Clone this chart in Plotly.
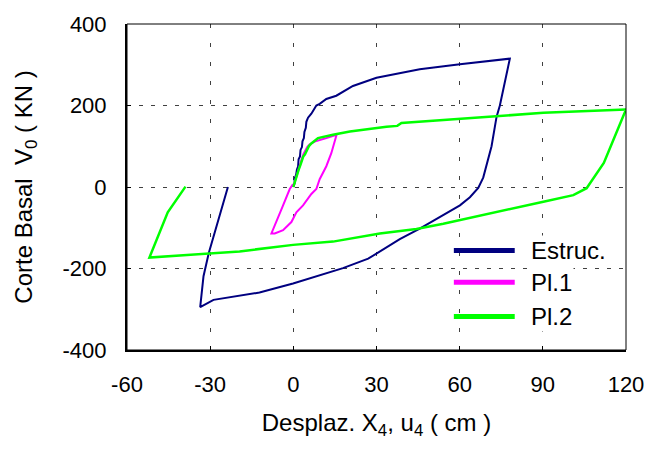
import plotly.graph_objects as go

# Hysteresis curves: base shear vs. top-floor displacement
estruc_x = [0, 0.5, 0.4, 1.0, 1.3, 1.7, 1.9, 2.4, 2.6, 3.1, 3.3, 3.8, 4.0, 4.5, 4.7, 5.3,
            6.5, 8.3, 9.5, 11.9, 15.5, 21.5, 30.0, 37.2, 45.6, 60.1, 78.1, 74.5, 73.3,
            71.5, 68.5, 66.7, 63.7, 60.1, 45.6, 38.4, 27.0, 17.9, -0.1, -12.2, -28.8,
            -33.6, -32.4, -30.5, -27.8, -23.6]
estruc_y = [0, 11, 20, 30, 43, 50, 68, 75, 91, 98, 112, 120, 135, 145, 160, 170,
            180, 200, 204, 216, 224, 248, 268, 278, 289, 301, 315, 200, 172,
            100, 23, -2, -25, -45, -102, -128, -176, -199, -237, -259, -277,
            -295, -219, -162, -98, 0]

pl1_x = [0, 0.6, 1.0, 1.6, 2.0, 2.6, 3.0, 3.6, 4.2, 5.0, 5.9, 8.3, 11.9, 15.6,
         13.7, 11.9, 9.5, 8.3, 6.5, 3.5, 1.1, -0.7, -3.7, -6.7, -7.9, -6.1, -3.7,
         -1.3, -0.1]
pl1_y = [0, 15, 22, 38, 45, 60, 68, 80, 88, 98, 105, 113, 120, 128,
         83, 51, 19, -5, -17, -45, -62, -86, -106, -114, -114, -86, -45,
         -5, 7]

pl2_x = [0, 0.5, 0.9, 1.5, 1.9, 2.6, 3.0, 3.6, 4.2, 5.0, 5.6, 6.5, 8.9, 14.3, 20.4,
         33.6, 37.5, 39.0, 60.1, 90.2, 120.0, 112.0, 105.8, 101.0, 90.2, 60.1, 54.1,
         44.4, 31.2, 14.3, -0.1, -19.4, -51.9, -45.3, -38.9]
pl2_y = [0, 12, 20, 35, 42, 55, 62, 75, 80, 92, 100, 107, 120, 128, 136,
         148, 150, 157, 168, 182, 190, 59, -3, -20, -36, -82, -90,
         -103, -114, -134, -142, -158, -173, -62, 1]

x_ticks = [-60, -30, 0, 30, 60, 90, 120]
y_ticks = [-400, -200, 0, 200, 400]
x_tick_labels = ["-60", "-30", "0", "30", "60", "90", "120"]
y_tick_labels = ["-400", "-200", "0", "200", "400"]

series_names = ["Estruc.", "Pl.1", "Pl.2"]
series_colors = ["#000080", "#FF00FF", "#00FF00"]
series_widths = [2, 2, 2.5]

FONT = "Arial, 'Liberation Sans', sans-serif"

fig = go.Figure()
for xs, ys, name, col, w in zip([estruc_x, pl1_x, pl2_x], [estruc_y, pl1_y, pl2_y],
                                series_names, series_colors, series_widths):
    fig.add_trace(go.Scatter(x=xs, y=ys, mode="lines", name=name,
                             line=dict(color=col, width=w), showlegend=False))

axis_common = dict(
    showgrid=True, gridcolor="#404040", gridwidth=1,
    showline=True, linecolor="black", linewidth=2,
    ticks="inside", ticklen=4, tickcolor="black", tickwidth=1,
    zeroline=False, tickfont=dict(family=FONT, size=22, color="black"),
)

fig.update_xaxes(range=[-60, 120], tickvals=x_ticks, ticktext=x_tick_labels,
                 griddash="4px,15px", ticklabelstandoff=14,
                 title=dict(text="Desplaz. X<sub>4</sub>, u<sub>4</sub> ( cm )",
                            font=dict(family=FONT, size=24, color="black"), standoff=18),
                 **axis_common)
fig.update_yaxes(range=[-400, 400], tickvals=y_ticks, ticktext=y_tick_labels,
                 griddash="4px,8px", ticklabelstandoff=14,
                 title=dict(text="Corte Basal \u00a0V<sub>0</sub> ( KN )",
                            font=dict(family=FONT, size=24, color="black"), standoff=23),
                 **axis_common)

# thin frame on top and right
fig.add_shape(type="rect", xref="paper", yref="paper", x0=0, x1=1, y0=0, y1=1,
              line=dict(color="black", width=1), layer="above")

# legend drawn as sample lines plus labels
leg_y = [0.305, 0.208, 0.103]
for name, col, ly in zip(series_names, series_colors, leg_y):
    fig.add_shape(type="line", xref="paper", yref="paper", x0=0.655, x1=0.777,
                  y0=ly, y1=ly, line=dict(color=col, width=5), layer="above")
    fig.add_annotation(xref="paper", yref="paper", x=0.805, y=ly, text=name,
                       showarrow=False, xanchor="left", yanchor="middle",
                       font=dict(family=FONT, size=24, color="black"),
                       bgcolor="white")

fig.update_layout(
    width=657, height=453,
    margin=dict(l=127, r=31, t=19, b=103),
    paper_bgcolor="white", plot_bgcolor="white",
)

fig.write_html("out.html")
